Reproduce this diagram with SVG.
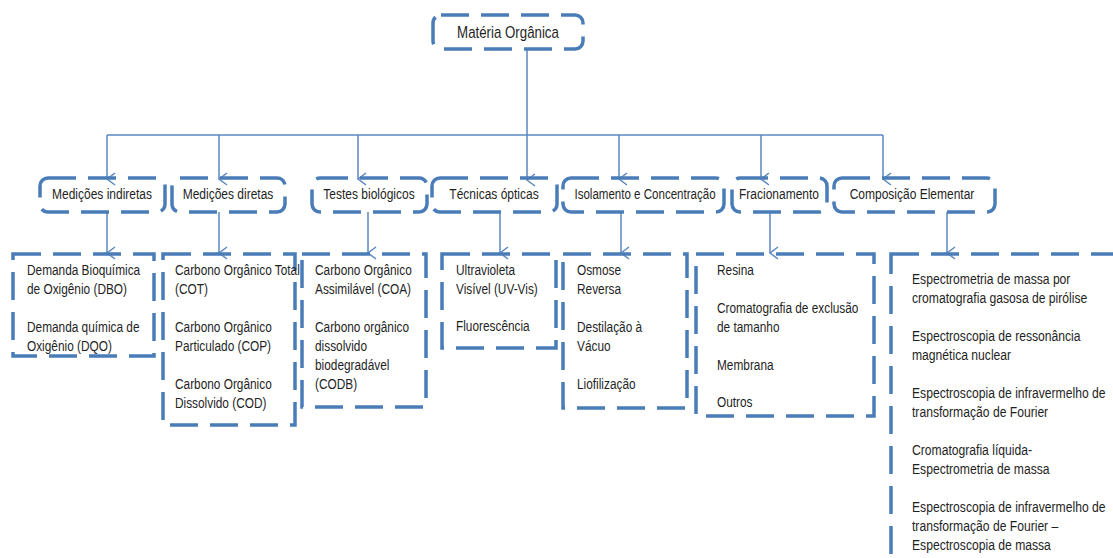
<svg xmlns="http://www.w3.org/2000/svg" width="1113" height="558" viewBox="0 0 1113 558">
  <defs>
    <style>
      .box { fill: none; stroke: #4a7cb8; stroke-width: 3.5; stroke-dasharray: 28 12; }
      .lbl { font-family: "Liberation Sans", Arial, sans-serif; font-size: 15px; fill: #1f1f1f; }
      .mid { text-anchor: middle; }
      .conn { fill: none; stroke: #5b87c2; stroke-width: 1.5; }
    </style>
    <marker id="arr" markerWidth="14" markerHeight="14" refX="7" refY="12" orient="auto" markerUnits="userSpaceOnUse" viewBox="0 0 14 14">
      <path d="M1,4 L7,12 L13,4" fill="none" stroke="#5b87c2" stroke-width="1.5"/>
    </marker>
  </defs>
  <rect width="1113" height="558" fill="#ffffff"/>

  <!-- connectors -->
  <g id="connectors">
    <path class="conn" d="M107,135 H883"/>
    <path class="conn" d="M527,49 V180" marker-end="url(#arr)"/>
    <path class="conn" d="M107,135 V179" marker-end="url(#arr)"/>
    <path class="conn" d="M219,135 V179" marker-end="url(#arr)"/>
    <path class="conn" d="M358,135 V179" marker-end="url(#arr)"/>
    <path class="conn" d="M619,135 V179" marker-end="url(#arr)"/>
    <path class="conn" d="M761,135 V179" marker-end="url(#arr)"/>
    <path class="conn" d="M883,135 V179" marker-end="url(#arr)"/>
    <path class="conn" d="M107,212 V253" marker-end="url(#arr)"/>
    <path class="conn" d="M219,212 V253" marker-end="url(#arr)"/>
    <path class="conn" d="M368,212 V253" marker-end="url(#arr)"/>
    <path class="conn" d="M500,212 V253" marker-end="url(#arr)"/>
    <path class="conn" d="M621,212 V253" marker-end="url(#arr)"/>
    <path class="conn" d="M770,212 V253" marker-end="url(#arr)"/>
    <path class="conn" d="M947,212 V253" marker-end="url(#arr)"/>
  </g>

  <!-- root -->
  <g id="materia-organica">
    <rect class="box" x="433" y="15" width="150" height="34" rx="8"/>
    <g transform="translate(508,38) scale(0.83 1)"><text class="lbl mid" x="0" y="0" style="font-size:16px">Matéria Orgânica</text></g>
  </g>

  <!-- second level -->
  <g id="medicoes-indiretas">
    <rect class="box" x="40" y="178" width="125" height="34" rx="8"/>
    <g transform="translate(102,199) scale(0.8 1)"><text class="lbl mid" x="0" y="0">Medições indiretas</text></g>
  </g>
  <g id="medicoes-diretas">
    <rect class="box" x="172" y="178" width="113" height="34" rx="8"/>
    <g transform="translate(228,199) scale(0.8 1)"><text class="lbl mid" x="0" y="0">Medições diretas</text></g>
  </g>
  <g id="testes-biologicos">
    <rect class="box" x="312" y="178" width="115" height="34" rx="8"/>
    <g transform="translate(369,199) scale(0.8 1)"><text class="lbl mid" x="0" y="0">Testes biológicos</text></g>
  </g>
  <g id="tecnicas-opticas">
    <rect class="box" x="432" y="178" width="125" height="34" rx="8"/>
    <g transform="translate(494,199) scale(0.8 1)"><text class="lbl mid" x="0" y="0">Técnicas  ópticas</text></g>
  </g>
  <g id="isolamento">
    <rect class="box" x="563" y="178" width="161" height="34" rx="8"/>
    <g transform="translate(645,199) scale(0.77 1)"><text class="lbl mid" x="0" y="0">Isolamento e Concentração</text></g>
  </g>
  <g id="fracionamento">
    <rect class="box" x="732" y="178" width="95" height="34" rx="8"/>
    <g transform="translate(779,199) scale(0.8 1)"><text class="lbl mid" x="0" y="0">Fracionamento</text></g>
  </g>
  <g id="composicao-elementar">
    <rect class="box" x="834" y="178" width="161" height="34" rx="8"/>
    <g transform="translate(912,199) scale(0.8 1)"><text class="lbl mid" x="0" y="0">Composição  Elementar</text></g>
  </g>

  <!-- third level -->
  <g id="demandas">
    <rect class="box" x="13" y="254" width="141" height="102"/>
    <g transform="translate(27,0) scale(0.79 1)" class="lbl">
      <text x="0" y="275">Demanda Bioquímica</text>
      <text x="0" y="294">de Oxigênio  (DBO)</text>
      <text x="0" y="332">Demanda química  de</text>
      <text x="0" y="351">Oxigênio (DQO)</text>
    </g>
  </g>
  <g id="carbono-organico">
    <rect class="box" x="163" y="254" width="132" height="171"/>
    <g transform="translate(175,0) scale(0.79 1)" class="lbl">
      <text x="0" y="275">Carbono Orgânico Total</text>
      <text x="0" y="294">(COT)</text>
      <text x="0" y="332">Carbono Orgânico</text>
      <text x="0" y="351">Particulado (COP)</text>
      <text x="0" y="389">Carbono Orgânico</text>
      <text x="0" y="408">Dissolvido (COD)</text>
    </g>
  </g>
  <g id="carbono-assimilavel">
    <rect class="box" x="302" y="254" width="124" height="153"/>
    <g transform="translate(315,0) scale(0.79 1)" class="lbl">
      <text x="0" y="275">Carbono Orgânico</text>
      <text x="0" y="294">Assimilável  (COA)</text>
      <text x="0" y="332">Carbono orgânico</text>
      <text x="0" y="351">dissolvido</text>
      <text x="0" y="370">biodegradável</text>
      <text x="0" y="389">(CODB)</text>
    </g>
  </g>
  <g id="opticas">
    <rect class="box" x="442" y="254" width="114" height="94"/>
    <g transform="translate(456,0) scale(0.79 1)" class="lbl">
      <text x="0" y="275">Ultravioleta</text>
      <text x="0" y="294">Visível (UV-Vis)</text>
      <text x="0" y="331">Fluorescência</text>
    </g>
  </g>
  <g id="concentracao">
    <rect class="box" x="563" y="254" width="124" height="154"/>
    <g transform="translate(577,0) scale(0.79 1)" class="lbl">
      <text x="0" y="275">Osmose</text>
      <text x="0" y="294">Reversa</text>
      <text x="0" y="332">Destilação à</text>
      <text x="0" y="351">Vácuo</text>
      <text x="0" y="389">Liofilização</text>
    </g>
  </g>
  <g id="fracoes">
    <rect class="box" x="696" y="254" width="178" height="162"/>
    <g transform="translate(717,0) scale(0.79 1)" class="lbl">
      <text x="0" y="275">Resina</text>
      <text x="0" y="313">Cromatografia de exclusão</text>
      <text x="0" y="332">de tamanho</text>
      <text x="0" y="370">Membrana</text>
      <text x="0" y="407">Outros</text>
    </g>
  </g>
  <g id="espectroscopias">
    <rect class="box" x="891" y="254" width="240" height="330"/>
    <g transform="translate(912,0) scale(0.81 1)" class="lbl">
      <text x="0" y="284">Espectrometria de massa por</text>
      <text x="0" y="303">cromatografia gasosa de pirólise</text>
      <text x="0" y="341">Espectroscopia de ressonância</text>
      <text x="0" y="360">magnética nuclear</text>
      <text x="0" y="398">Espectroscopia de infravermelho de</text>
      <text x="0" y="417">transformação de Fourier</text>
      <text x="0" y="455">Cromatografia líquida-</text>
      <text x="0" y="474">Espectrometria de massa</text>
      <text x="0" y="512">Espectroscopia de infravermelho de</text>
      <text x="0" y="531">transformação de Fourier –</text>
      <text x="0" y="550">Espectroscopia de massa</text>
    </g>
  </g>
</svg>
